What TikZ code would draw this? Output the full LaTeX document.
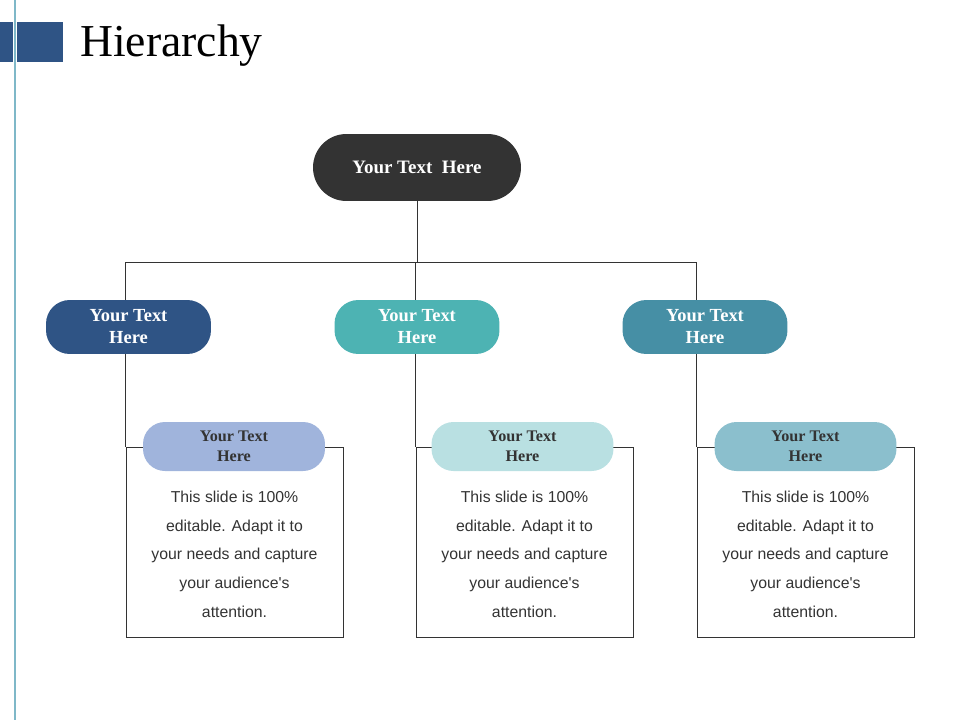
\documentclass[tikz,border=0pt]{standalone}
\usepackage{fontspec}
\setmainfont{Liberation Serif}
\setsansfont{Liberation Sans}
\usepackage{tikz}
\usetikzlibrary{positioning,calc}

\definecolor{darkblue}{HTML}{2F5485}
\definecolor{midteal}{HTML}{4DB3B3}
\definecolor{deepteal}{HTML}{468FA5}
\definecolor{paleblue}{HTML}{A0B4DC}
\definecolor{paleteal}{HTML}{B9E0E2}
\definecolor{softteal}{HTML}{8BBFCD}
\definecolor{rootgray}{HTML}{333333}
\definecolor{sideline}{HTML}{7FB8C8}

\begin{document}
\begin{tikzpicture}[x=0.02cm, y=-0.02cm,
  pill/.style = {rounded corners=13.5pt, align=center, font=\fontsize{10.5}{12.5}\selectfont\bfseries, inner sep=0pt},
  level_one/.style = {pill, text=white, minimum width=3.3cm, minimum height=1.08cm},
  level_two/.style = {pill, text=rootgray, minimum width=3.64cm, minimum height=0.98cm, rounded corners=12.5pt, font=\fontsize{9.2}{11.5}\selectfont\bfseries},
  textbox/.style = {draw=rootgray, line width=0.5pt, minimum width=4.34cm, minimum height=3.8cm, inner sep=0pt},
  body/.style = {align=center, font=\sffamily\fontsize{9}{16.4}\selectfont, text=rootgray},
  link/.style = {draw=rootgray, line width=0.5pt}
]
\useasboundingbox (0,0) rectangle (960,720);

% header
\fill[darkblue] (0,22) rectangle (13,62);
\fill[darkblue] (17,22) rectangle (63,62);
\draw[sideline, line width=0.8pt] (15,0) -- (15,720);
\node[anchor=west, font=\fontsize{26}{30}\selectfont] (title) at (74,46) {Hierarchy};

% root
\node[pill, fill=rootgray, text=white, minimum width=4.16cm, minimum height=1.34cm, rounded corners=19pt, font=\fontsize{10.8}{12.5}\selectfont\bfseries] (root) at (417,167.5) {Your Text\ \ Here};

% level 1
\node[level_one, fill=darkblue] (L) at (128.5,327) {Your Text\\Here};
\node[level_one, fill=midteal] (M) at (417,327) {Your Text\\Here};
\node[level_one, fill=deepteal] (R) at (705,327) {Your Text\\Here};

% text boxes
\node[textbox] (BL) at (234.5,542) {};
\node[textbox] (BM) at (524.5,542) {};
\node[textbox] (BR) at (805.5,542) {};

% level 2
\node[level_two, fill=paleblue] (SL) at (234,446.5) {Your Text\\Here};
\node[level_two, fill=paleteal] (SM) at (522.5,446.5) {Your Text\\Here};
\node[level_two, fill=softteal] (SR) at (805.5,446.5) {Your Text\\Here};

\foreach \b in {BL,BM,BR}
  \node[body, anchor=north] at ($(\b.north)+(0,38)$) {This slide is 100\%\\editable. Adapt it to\\your needs and capture\\your audience\textquotesingle s\\attention.};

% connectors
\coordinate (hub) at (417,262);
\draw[link] (root.south) -- (hub);
\draw[link] (BL.north west |- hub) -- (BR.north west |- hub);
\draw[link] (BL.north west |- hub) -- (BL.north west |- L.north);
\draw[link] (BR.north west |- hub) -- (BR.north west |- R.north);
\draw[link] (BM.north west |- hub) -- (BM.north west |- M.north);
\draw[link] (BL.north west |- L.south) -- (BL.north west);
\draw[link] (BM.north west |- M.south) -- (BM.north west);
\draw[link] (BR.north west |- R.south) -- (BR.north west);
\end{tikzpicture}
\end{document}
